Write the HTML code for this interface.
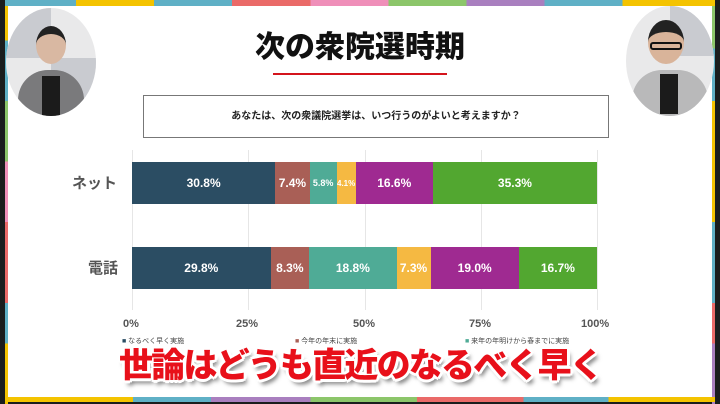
<!DOCTYPE html>
<html><head><meta charset="utf-8"><style>
*{margin:0;padding:0;box-sizing:border-box}
body{width:720px;height:404px;background:#1a1d1d;position:relative;overflow:hidden;font-family:"Liberation Sans","Noto Sans CJK JP",sans-serif}
.abs{position:absolute}
.white{left:8px;top:6px;width:704px;height:391px;background:#fff}
.bar{position:absolute;left:132px;width:465px;height:42px;display:flex}
.bar div{height:100%;color:#fff;font-weight:bold;font-size:12px;display:flex;align-items:center;justify-content:center;white-space:nowrap;overflow:hidden}
.grid{position:absolute;top:150px;width:1px;height:160px;background:#e6e6e6}
.tick{position:absolute;top:318px;font-size:11px;font-weight:bold;color:#555}
.lab{position:absolute;font-size:15px;font-weight:bold;color:#555}
.leg{position:absolute;top:336px;font-size:7px;color:#444}
.cap{position:absolute;left:119px;top:346px;font-size:34px;line-height:40px;font-weight:900;color:#e8101a;letter-spacing:-1.8px;white-space:nowrap;
 text-shadow:-2px -2px 0 #fff,2px -2px 0 #fff,-2px 2px 0 #fff,2px 2px 0 #fff,0 3px 0 #fff,0 -3px 0 #fff,3px 0 0 #fff,-3px 0 0 #fff,3px 5px 4px rgba(0,0,0,.5)}
.circ{position:absolute;border-radius:50%;overflow:hidden;background:#e9e9ea}
</style></head><body>
<div class="abs" style="left:5px;top:0;width:3px;height:404px;background:linear-gradient(#f4c300 0 10%,#5fb0c6 10% 25%,#8cc66a 25% 40%,#ef8fb9 40% 55%,#ea6a68 55% 75%,#5fb0c6 75% 85%,#f4c300 85%)"></div>
<div class="abs" style="left:712px;top:0;width:3px;height:404px;background:linear-gradient(#8cc66a 0 12%,#5fb0c6 12% 25%,#f4c300 25% 55%,#5fb0c6 55% 75%,#ea6a68 75% 85%,#a97fbf 85%)"></div>
<div class="abs" style="left:5px;top:0;width:710px;height:6px;background:linear-gradient(90deg,#5fb0c6 0 10%,#f4c300 10% 21%,#5fb0c6 21% 32%,#ea6a68 32% 43%,#ef8fb9 43% 54%,#8cc66a 54% 65%,#a97fbf 65% 76%,#5fb0c6 76% 87%,#f4c300 87%)"></div>
<div class="abs" style="left:5px;top:397px;width:710px;height:5px;background:linear-gradient(90deg,#f4c300 0 18%,#5fb0c6 18% 29%,#a97fbf 29% 43%,#8cc66a 43% 58%,#ea6a68 58% 73%,#5fb0c6 73% 85%,#f4c300 85%)"></div>
<div class="abs white"></div>

<div class="circ" style="left:6px;top:8px;width:90px;height:108px">
 <div class="abs" style="left:0;top:0;width:45px;height:50px;background:#c9cbd0"></div>
 <div class="abs" style="left:45px;top:50px;width:45px;height:50px;background:#c9cbd0"></div>
 <div class="abs" style="left:30px;top:18px;width:30px;height:38px;border-radius:50%;background:#d9b8a2;border-top:8px solid #222"></div>
 <div class="abs" style="left:12px;top:62px;width:66px;height:50px;border-radius:30px 30px 0 0;background:#7a7a7c"></div>
 <div class="abs" style="left:36px;top:68px;width:18px;height:40px;background:#1b1b1b"></div>
</div>
<div class="circ" style="left:626px;top:6px;width:88px;height:110px">
 <div class="abs" style="left:44px;top:0;width:44px;height:50px;background:#c9cbd0"></div>
 <div class="abs" style="left:22px;top:14px;width:36px;height:44px;border-radius:50%;background:#d9b49a;border-top:12px solid #222"></div>
 <div class="abs" style="left:24px;top:36px;width:32px;height:8px;border:2px solid #111;border-radius:3px"></div>
 <div class="abs" style="left:6px;top:64px;width:76px;height:50px;border-radius:30px 30px 0 0;background:#b9b9ba"></div>
 <div class="abs" style="left:34px;top:68px;width:18px;height:40px;background:#1b1b1b"></div>
</div>

<div class="abs" style="left:0;width:720px;top:22px;text-align:center;font-size:30px;font-weight:900;color:#111">次の衆院選時期</div>
<div class="abs" style="left:273px;top:73px;width:174px;height:2px;background:#d4141c"></div>
<div class="abs" style="left:143px;top:95px;width:466px;height:43px;border:1px solid #777;text-align:center;line-height:41px;font-size:10px;font-weight:bold;color:#222">あなたは、次の衆議院選挙は、いつ行うのがよいと考えますか？</div>

<div class="grid" style="left:132px"></div><div class="grid" style="left:248px"></div><div class="grid" style="left:365px"></div><div class="grid" style="left:481px"></div><div class="grid" style="left:597px"></div>

<div class="lab" style="left:72px;top:172px">ネット</div>
<div class="lab" style="left:88px;top:257px">電話</div>

<div class="bar" style="top:162px">
<div style="width:30.8%;background:#2b4d63">30.8%</div>
<div style="width:7.4%;background:#a95f56">7.4%</div>
<div style="width:5.8%;background:#4fab96;font-size:9px">5.8%</div>
<div style="width:4.1%;background:#f5b942;font-size:8px">4.1%</div>
<div style="width:16.6%;background:#9f2a91">16.6%</div>
<div style="width:35.3%;background:#52a730">35.3%</div>
</div>
<div class="bar" style="top:247px">
<div style="width:29.8%;background:#2b4d63">29.8%</div>
<div style="width:8.3%;background:#a95f56">8.3%</div>
<div style="width:18.8%;background:#4fab96">18.8%</div>
<div style="width:7.3%;background:#f5b942">7.3%</div>
<div style="width:19.0%;background:#9f2a91">19.0%</div>
<div style="width:16.8%;background:#52a730">16.7%</div>
</div>

<div class="tick" style="left:123px">0%</div>
<div class="tick" style="left:236px">25%</div>
<div class="tick" style="left:353px">50%</div>
<div class="tick" style="left:469px">75%</div>
<div class="tick" style="left:581px">100%</div>

<div class="leg" style="left:122px"><span style="color:#2b4d63">■</span> なるべく早く実施</div>
<div class="leg" style="left:295px"><span style="color:#a95f56">■</span> 今年の年末に実施</div>
<div class="leg" style="left:465px"><span style="color:#4fab96">■</span> 来年の年明けから春までに実施</div>

<div class="cap">世論はどうも直近のなるべく早く</div>
</body></html>
